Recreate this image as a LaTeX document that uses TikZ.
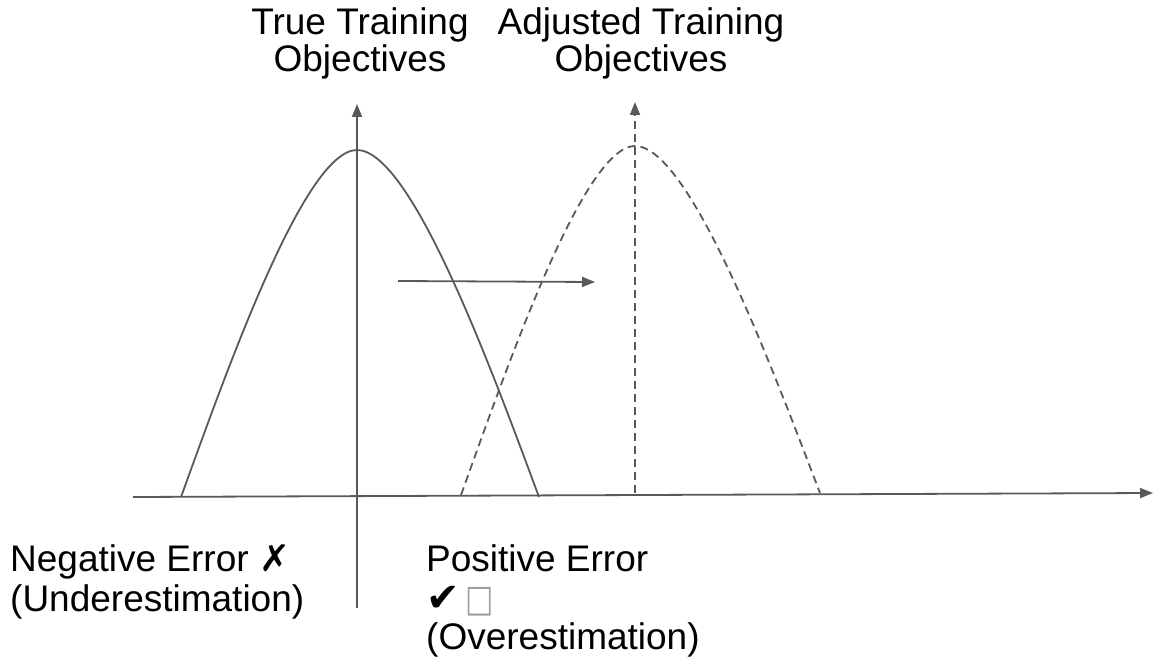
\documentclass[tikz,border=0pt]{standalone}
\usepackage{fontspec}
\setmainfont{Liberation Sans}
\newfontfamily\symfont{DejaVu Sans}
\usepackage{xcolor}
\usetikzlibrary{arrows.meta}
\definecolor{linegray}{HTML}{595959}
\definecolor{boxgray}{HTML}{9E9E9E}

\begin{document}
\begin{tikzpicture}[x=1pt,y=-1pt,
    curveline/.style={draw=linegray, line width=1.8pt},
    arrowline/.style={curveline, -{Triangle[length=13pt,width=10pt]}},
    dashline/.style={dash pattern=on 8pt off 5pt},
    txt/.style={font=\fontsize{37}{40}\selectfont, inner sep=0pt}]
    \useasboundingbox (0,0) rectangle (1154,658);

    % axes
    \coordinate (xleft) at (133,497);
    \coordinate (xright) at (1153,493);
    \coordinate (ybottom) at (357,608);
    \coordinate (ytop) at (357,104);
    \draw[arrowline] (xleft) -- (xright);
    \draw[arrowline] (ybottom) -- (ytop);

    % true objective curve
    \coordinate (truepeak) at (357,150);
    \draw[curveline] (181,497) .. controls (225,376) and (304,150) .. (truepeak)
        .. controls (412,150) and (494,376) .. (539,497);

    % adjusted objective curve
    \coordinate (adjbase) at (635,493);
    \coordinate (adjtop) at (635,102);
    \coordinate (adjpeak) at (635,146);
    \draw[curveline, dashline] (461,495) .. controls (505,373) and (583,146) .. (adjpeak)
        .. controls (690,146) and (774,373) .. (820,493);
    \draw[arrowline, dashline] (adjbase) -- (adjtop);

    % shift
    \coordinate (shiftstart) at (398,281);
    \coordinate (shiftend) at (595,282);
    \draw[arrowline] (shiftstart) -- (shiftend);

    % labels
    \node[txt, align=center, anchor=north] (truelabel) at (360,7) {True Training\\[-3pt]Objectives};
    \node[txt, align=center, anchor=north] (adjlabel) at (641,7) {Adjusted Training\\[-3pt]Objectives};
    \node[txt, align=left, anchor=north west] (neglabel) at (10,544) {Negative Error {\symfont ✗}\\(Underestimation)};
    \node[txt, align=left, anchor=north west] (poslabel) at (426,544) {Positive Error\\{\symfont\fontsize{40}{40}\selectfont ✔}\,{\symfont\fontsize{30}{30}\selectfont\color{boxgray}\scalebox{1}[1.25]{□}}\\[-2pt](Overestimation)};
\end{tikzpicture}
\end{document}
